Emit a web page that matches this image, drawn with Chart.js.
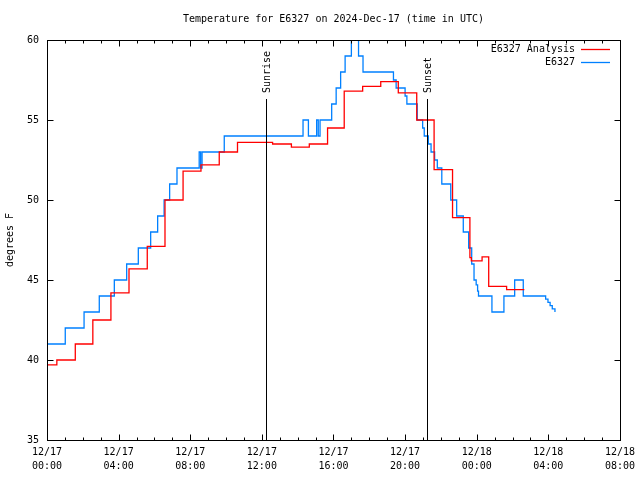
<!DOCTYPE html>
<html>
<head>
<meta charset="utf-8">
<script src="https://cdn.jsdelivr.net/npm/chart.js@4.4.1/dist/chart.umd.min.js"></script>
<style>
  html, body { margin: 0; padding: 0; background: #fff; }
  #wrap { width: 640px; height: 480px; }
</style>
</head>
<body>
<div id="wrap"><canvas id="tempChart" width="640" height="480"></canvas></div>
<script>
// hours since 12/17 00:00 UTC, value changes at each listed hour
const analysisHours = [0, 0.55, 1.58, 2.56, 3.57, 4.58, 5.6, 6.59, 7.6, 8.6, 9.62, 10.64, 12.6, 13.65, 14.65, 15.67, 16.6, 17.63, 18.64, 19.62, 20.65, 21.62, 22.65, 23.62, 23.7, 24.3, 24.67, 25.67, 26.66]
const analysisTemps = [39.7, 40.0, 41.0, 42.5, 44.2, 45.7, 47.1, 50.0, 51.8, 52.2, 53.0, 53.6, 53.5, 53.3, 53.5, 54.5, 56.8, 57.1, 57.4, 56.7, 55.0, 51.9, 48.9, 46.4, 46.2, 46.45, 44.6, 44.4, 44.4]

const obsHours = [0, 1.02, 2.07, 2.92, 3.76, 4.45, 5.1, 5.79, 6.18, 6.54, 6.85, 7.26, 8.5, 8.58, 8.66, 9.9, 14.3, 14.6, 15.06, 15.15, 15.25, 15.9, 16.15, 16.4, 16.65, 17.0, 17.4, 17.65, 19.35, 19.5, 20.0, 20.1, 20.68, 20.98, 21.07, 21.3, 21.45, 21.65, 21.8, 22.05, 22.55, 22.88, 23.25, 23.55, 23.72, 23.85, 23.97, 24.05, 24.1, 24.85, 25.52, 26.12, 26.6, 27.85, 27.98, 28.1, 28.22, 28.37]
const obsTemps = [41, 42, 43, 44, 45, 46, 47, 48, 49, 50, 51, 52, 53, 52, 53, 54, 55, 54, 55, 54, 55, 56, 57, 58, 59, 60, 59, 58, 57.5, 57, 56.5, 56, 55, 54.5, 54, 53.5, 53, 52.5, 52, 51, 50, 49, 48, 47, 46, 45, 44.7, 44.3, 44, 43, 44, 45, 44, 43.8, 43.6, 43.4, 43.2, 43.0]

const xTickLabels = [
  ['12/17', '00:00'], ['12/17', '04:00'], ['12/17', '08:00'], ['12/17', '12:00'], ['12/17', '16:00'],
  ['12/17', '20:00'], ['12/18', '00:00'], ['12/18', '04:00'], ['12/18', '08:00']
]
const sunEvents = [
  { label: 'Sunrise', hour: 12.23 },
  { label: 'Sunset', hour: 21.22 }
]

const FONT = '10px "DejaVu Sans Mono", monospace'

const toPoints = (xs, ys) => xs.map((h, i) => ({ x: h, y: ys[i] }))

const gnuplotFrame = {
  id: 'gnuplotFrame',
  afterDraw(chart) {
    const { ctx, chartArea: a, scales: { x, y } } = chart
    const L = Math.round(a.left) + 0.5, R = Math.round(a.right) + 0.5
    const T = Math.round(a.top) + 0.5, B = Math.round(a.bottom) + 0.5
    ctx.save()
    ctx.strokeStyle = '#000'
    ctx.lineWidth = 1
    ctx.beginPath()
    // x ticks, hourly minor, 4-hourly major
    for (let h = 0; h <= 32; h++) {
      const px = Math.round(x.getPixelForValue(h)) + 0.5
      const len = h % 4 === 0 ? 6 : 3
      ctx.moveTo(px, B); ctx.lineTo(px, B - len)
      ctx.moveTo(px, T); ctx.lineTo(px, T + len)
    }
    for (let v = 35; v <= 60; v += 5) {
      const py = Math.round(y.getPixelForValue(v)) + 0.5
      ctx.moveTo(L, py); ctx.lineTo(L + 6, py)
      ctx.moveTo(R, py); ctx.lineTo(R - 6, py)
    }
    ctx.stroke()
    ctx.strokeRect(L, T, R - L, B - T)

    // sunrise / sunset
    ctx.font = FONT
    ctx.fillStyle = '#000'
    sunEvents.forEach(ev => {
      const px = Math.round(x.getPixelForValue(ev.hour)) + 0.5
      ctx.beginPath()
      ctx.moveTo(px, B); ctx.lineTo(px, 99)
      ctx.stroke()
      ctx.save()
      ctx.translate(px + 1, 93)
      ctx.rotate(-Math.PI / 2)
      ctx.textAlign = 'left'
      ctx.textBaseline = 'middle'
      ctx.fillText(ev.label, 0, 0)
      ctx.restore()
    })

    // title
    ctx.textAlign = 'center'
    ctx.textBaseline = 'middle'
    ctx.fillText('Temperature for E6327 on 2024-Dec-17 (time in UTC)', (a.left + a.right) / 2, 19)

    // legend
    ctx.textAlign = 'right'
    chart.data.datasets.forEach((ds, i) => {
      const ly = 49 + i * 13
      ctx.fillStyle = '#000'
      ctx.fillText(ds.label, 575, ly)
      ctx.strokeStyle = ds.borderColor
      ctx.lineWidth = 1.3
      ctx.beginPath()
      ctx.moveTo(581, Math.round(ly) + 0.5); ctx.lineTo(610, Math.round(ly) + 0.5)
      ctx.stroke()
    })
    ctx.restore()
  }
}

new Chart(document.getElementById('tempChart'), {
  type: 'line',
  data: {
    datasets: [
      {
        label: 'E6327 Analysis',
        data: toPoints(analysisHours, analysisTemps),
        borderColor: '#ff0000',
        borderWidth: 1.3,
        stepped: 'before',
        pointRadius: 0,
        fill: false
      },
      {
        label: 'E6327',
        data: toPoints(obsHours, obsTemps),
        borderColor: '#0080ff',
        borderWidth: 1.3,
        stepped: 'before',
        pointRadius: 0,
        fill: false
      }
    ]
  },
  options: {
    responsive: false,
    animation: false,
    devicePixelRatio: 1,
    layout: { padding: { top: 40, right: 20, left: 0, bottom: 0 } },
    plugins: {
      legend: { display: false },
      title: { display: false },
      tooltip: { enabled: false }
    },
    scales: {
      x: {
        type: 'linear',
        min: 0,
        max: 32,
        afterFit(scale) { scale.height = 40 },
        grid: { display: false, drawTicks: false },
        border: { display: false },
        ticks: {
          stepSize: 4,
          padding: 5,
          maxRotation: 0,
          autoSkip: false,
          color: '#000',
          font: { family: '"DejaVu Sans Mono", monospace', size: 10, lineHeight: 1.4 },
          callback: (v) => xTickLabels[v / 4]
        }
      },
      y: {
        min: 35,
        max: 60,
        afterFit(scale) { scale.width = 47 },
        grid: { display: false, drawTicks: false },
        border: { display: false },
        ticks: {
          stepSize: 5,
          padding: 8,
          color: '#000',
          font: { family: '"DejaVu Sans Mono", monospace', size: 10 }
        },
        title: {
          display: true,
          text: 'degrees F',
          color: '#000',
          padding: { top: 4, bottom: 0 },
          font: { family: '"DejaVu Sans Mono", monospace', size: 10 }
        }
      }
    }
  },
  plugins: [gnuplotFrame]
})
</script>
</body>
</html>
